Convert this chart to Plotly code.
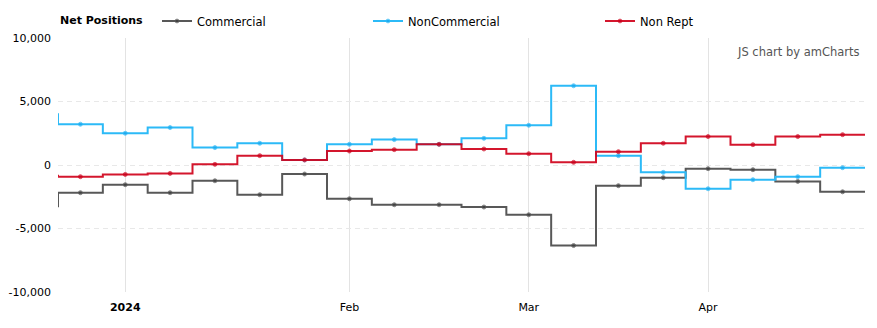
import plotly.graph_objects as go
import pandas as pd

# ---- data (weekly net positions) ----
dates = ["2023-12-19", "2023-12-26", "2024-01-02", "2024-01-09", "2024-01-16", "2024-01-23",
         "2024-01-30", "2024-02-06", "2024-02-13", "2024-02-20", "2024-02-27", "2024-03-05",
         "2024-03-12", "2024-03-19", "2024-03-26", "2024-04-02", "2024-04-09", "2024-04-16",
         "2024-04-23"]
commercial = [-3240, -2180, -1550, -2180, -1240, -2340, -710, -2660, -3130, -3130, -3310,
              -3920, -6340, -1630, -1000, -290, -370, -1290, -2110]
noncommercial = [4000, 3210, 2500, 2950, 1370, 1710, 400, 1630, 2000, 1630, 2100,
                 3130, 6240, 735, -580, -1870, -1160, -920, -210]
nonrept = [-850, -920, -740, -660, 50, 735, 395, 1100, 1210, 1630, 1260,
           890, 210, 1050, 1710, 2240, 1600, 2240, 2390]

tick_dates = ["2024-01-02", "2024-02-06", "2024-03-05", "2024-04-02"]
tick_labels = ["<b>2024</b>", "Feb", "Mar", "Apr"]

series = [
    ("Commercial", commercial, "#585858", "#3a3a3a", "legend"),
    ("NonCommercial", noncommercial, "#2cbaf7", "#17a6ee", "legend2"),
    ("Non Rept", nonrept, "rgba(208,2,27,0.92)", "#c4001c", "legend3"),
]

d = pd.to_datetime(dates)
half = pd.Timedelta(days=3.5)
x_ext = list(d) + [d[-1] + half]
x_range = [d[1] - half, d[-1] + half]

W, H = 877, 328
L, R, T, B = 58, 12, 38, 36
PW, PH = W - L - R, H - T - B


def px(x):
    return (x - L) / PW


def py(y):
    return (H - B - y) / PH


FONT = "DejaVu Sans"
fig = go.Figure()
for name, vals, lc, mc, lg in series:
    y_ext = list(vals) + [vals[-1]]
    sizes = [4] * len(vals) + [0]
    fig.add_trace(go.Scatter(
        x=x_ext, y=y_ext, name=name, mode="lines+markers",
        line=dict(color=lc, width=2, shape="hvh"),
        marker=dict(color=mc, size=sizes),
        legend=lg, cliponaxis=True,
    ))

legend_common = dict(orientation="h", xref="container", yref="container",
                     yanchor="middle", font=dict(family=FONT, size=11.5, color="#000"),
                     bgcolor="rgba(0,0,0,0)", itemwidth=30, borderwidth=0)

fig.update_layout(
    width=W, height=H,
    margin=dict(l=L, r=R, t=T, b=B, autoexpand=False),
    plot_bgcolor="white", paper_bgcolor="white",
    font=dict(family=FONT, size=11, color="#000"),
    showlegend=True,
    legend=dict(x=157 / W, y=1 - 21 / H, **legend_common),
    legend2=dict(x=368 / W, y=1 - 21 / H, **legend_common),
    legend3=dict(x=600 / W, y=1 - 21 / H, **legend_common),
    xaxis=dict(
        type="date", range=x_range, tickvals=tick_dates, ticktext=tick_labels,
        showgrid=True, gridcolor="#e3e3e3", gridwidth=1,
        showline=False, zeroline=False, ticks="", ticklabelstandoff=7,
        tickfont=dict(family=FONT, size=11, color="#000"),
    ),
    yaxis=dict(
        range=[-10000, 10000], tickvals=[-10000, -5000, 0, 5000, 10000],
        ticktext=["-10,000", "-5,000", "0", "5,000", "10,000"],
        showgrid=True, gridcolor="#e8e8e8", griddash="5px,4px", gridwidth=1,
        zeroline=False, showline=False, ticks="", ticklabelstandoff=6,
        tickfont=dict(family=FONT, size=11, color="#000"),
    ),
    annotations=[
        dict(text="<b>Net Positions</b>", xref="paper", yref="paper",
             x=px(58), y=py(21), xanchor="left", yanchor="middle",
             showarrow=False, font=dict(family=FONT, size=11, color="#000")),
        dict(text="JS chart by amCharts", xref="paper", yref="paper",
             x=px(862), y=py(52), xanchor="right", yanchor="middle",
             showarrow=False, font=dict(family=FONT, size=11.5, color="#555")),
    ],
    hovermode="x unified",
)

fig.write_html("out.html")
